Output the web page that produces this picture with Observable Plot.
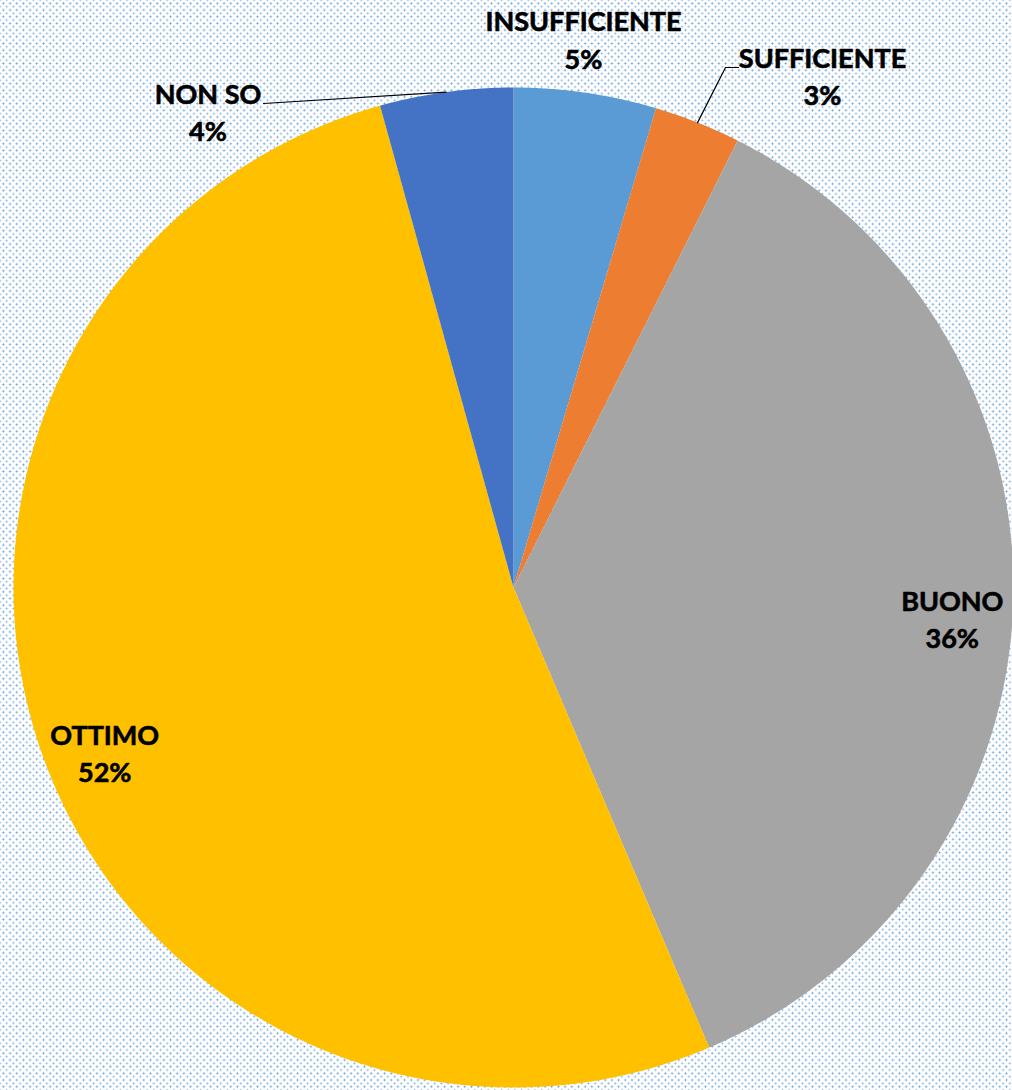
<!DOCTYPE html>
<html>
<head>
<meta charset="utf-8">
<script src="https://cdn.jsdelivr.net/npm/d3@7"></script>
<script src="https://cdn.jsdelivr.net/npm/@observablehq/plot@0.6"></script>
<style>
  html, body { margin: 0; padding: 0; }
  body {
    width: 1012px; height: 1090px; overflow: hidden;
    background-color: #ffffff;
    background-image:
      radial-gradient(circle, #5f9bd6 0.7px, rgba(255,255,255,0) 1.3px),
      radial-gradient(circle, #86b3e2 0.7px, rgba(255,255,255,0) 1.3px);
    background-size: 6.7px 6.7px, 6.7px 6.7px;
    background-position: 0 0, 3.35px 3.35px;
  }
  #chart svg { display: block; background: transparent !important; }
</style>
</head>
<body>
<div id="chart"></div>
<script>
// ---- data ----
const categories = ["INSUFFICIENTE", "SUFFICIENTE", "BUONO", "OTTIMO", "NON SO"];
const values = [4.6, 2.8, 36.2, 52.1, 4.3];
const colors = ["#5B9BD5", "#ED7D31", "#A5A5A5", "#FFC000", "#4472C4"];

// ---- layout (pixels of the 1012x1090 frame) ----
const W = 1012, H = 1090, CX = 513, CY = 587, R = 500;
const toX = px => (px - CX) / R;
const toY = py => (CY - py) / R;

// label placement: polar (degrees clockwise from top, radius factor) of the text block centre
const labelLayout = {
  "INSUFFICIENTE": {a: 7.3, r: 1.102},
  "SUFFICIENTE":   {a: 31.2, r: 1.193},
  "BUONO":         {a: 94.3, r: 0.88},
  "OTTIMO":        {a: 247.8, r: 0.883},
  "NON SO":        {a: 327.2, r: 1.128}
};
// leader line bend/end points in pixels for outside labels that need a leader
const leaderLayout = {
  "SUFFICIENTE": [[725, 67], [738, 67]],
  "NON SO": [[263, 103]]
};

const total = d3.sum(values);
const pie = d3.pie().sort(null).value(d => d)(values);
const rad = deg => deg * Math.PI / 180;
const polar = (theta, r) => ({x: r * Math.sin(theta), y: r * Math.cos(theta)});

// slice polygons
const slicePts = [];
pie.forEach((p, i) => {
  const name = categories[i];
  slicePts.push({name, ...polar(0, 0)});
  const n = Math.max(8, Math.ceil((p.endAngle - p.startAngle) / 0.003));
  for (let k = 0; k <= n; k++) {
    const t = p.startAngle + (p.endAngle - p.startAngle) * k / n;
    slicePts.push({name, ...polar(t, 1)});
  }
  slicePts.push({name, ...polar(0, 0)});
});

// labels
const labels = categories.map((name, i) => {
  const L = labelLayout[name];
  const pt = polar(rad(L.a), L.r);
  return {name, x: pt.x, y: pt.y, text: `${name}\n${Math.round(values[i] / total * 100)}%`};
});

// leader lines
const leaders = [];
pie.forEach((p, i) => {
  const name = categories[i];
  if (!leaderLayout[name]) return;
  const mid = (p.startAngle + p.endAngle) / 2;
  leaders.push({name, ...polar(mid, 1)});
  leaderLayout[name].forEach(([px, py]) => leaders.push({name, x: toX(px), y: toY(py)}));
});

const chart = Plot.plot({
  width: W,
  height: H,
  margin: 0,
  style: {background: "transparent", overflow: "visible"},
  x: {domain: [toX(0), toX(W)], axis: null},
  y: {domain: [toY(H), toY(0)], axis: null},
  color: {domain: categories, range: colors},
  marks: [
    Plot.line(slicePts, {x: "x", y: "y", z: "name", fill: "name", stroke: "none", curve: "linear"}),
    Plot.line(leaders, {x: "x", y: "y", z: "name", stroke: "#000", strokeWidth: 1.2, curve: "linear"}),
    Plot.text(labels, {
      x: "x", y: "y", text: "text", dy: -3,
      fontFamily: "Lato", fontWeight: "bold", fontSize: 27,
      lineHeight: 1.38, fill: "#000", stroke: "#000", strokeWidth: 0.6,
      textAnchor: "middle"
    })
  ]
});
document.getElementById("chart").appendChild(chart);
</script>
</body>
</html>
